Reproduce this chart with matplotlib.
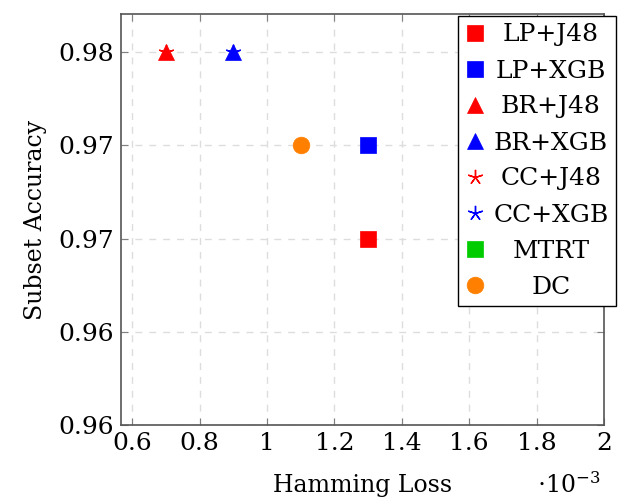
import matplotlib
matplotlib.use("Agg")
import matplotlib.pyplot as plt

# data (hamming loss in units of 1e-3, subset accuracy)
names = ["LP+J48", "LP+XGB", "BR+J48", "BR+XGB", "CC+J48", "CC+XGB", "MTRT", "DC"]
hloss = [1.3, 1.3, 0.7, 0.9, 0.7, 0.9, 2.6, 1.1]
sacc = [0.970, 0.975, 0.980, 0.980, 0.980, 0.980, 0.93, 0.975]
colors = ["#ff0000", "#0000ff", "#ff0000", "#0000ff", "#ff0000", "#0000ff", "#00cc00", "#ff8000"]
markers = ["s", "s", "^", "^", (5, 2, 0), (5, 2, 0), "s", "o"]
msizes = [12, 12, 11, 11, 11, 11, 12, 12]

yticks = [0.96, 0.965, 0.97, 0.975, 0.98]
ylabels = ["0.96", "0.96", "0.97", "0.97", "0.98"]
xticks = [0.6, 0.8, 1.0, 1.2, 1.4, 1.6, 1.8, 2.0]
xlabels = ["0.6", "0.8", "1", "1.2", "1.4", "1.6", "1.8", "2"]

plt.rcParams["font.family"] = ["DejaVu Serif"]
plt.rcParams["mathtext.fontset"] = "dejavuserif"

fig = plt.figure(figsize=(6.35, 5.03), dpi=100)
ax = fig.add_axes([0.1906, 0.155, 0.7606, 0.817])

for n, x, y, c, m, s in zip(names, hloss, sacc, colors, markers, msizes):
    ax.plot([x], [y], linestyle="none", marker=m, color=c, markersize=s,
            markeredgewidth=1.0 if m not in ("s", "o", "^") else 0.5, label=n)

ax.set_xlim(0.567, 2.0)
ax.set_ylim(0.96, 0.98204)
ax.set_xticks(xticks)
ax.set_xticklabels(xlabels)
ax.set_yticks(yticks)
ax.set_yticklabels(ylabels)
ax.tick_params(direction="in", length=5, color="#808080", labelsize=18, pad=5,
               top=True, right=True)
ax.grid(True, linestyle=(0, (5, 5)), color="#dddddd", linewidth=1)
for sp in ax.spines.values():
    sp.set_color("#555555")
    sp.set_linewidth(1.2)

ax.set_xlabel("Hamming Loss", fontsize=17, labelpad=14)
ax.set_ylabel("Subset Accuracy", fontsize=17, labelpad=8)
fig.text(0.895, 0.010, r"$\cdot 10^{-3}$", fontsize=17, ha="center", va="bottom")

leg = ax.legend(loc="upper right", bbox_to_anchor=(616 / 635, 1 - 16 / 503),
                bbox_transform=fig.transFigure, fontsize=18, frameon=True,
                fancybox=False, edgecolor="black", framealpha=1,
                handlelength=0.7, handletextpad=0.4, borderpad=0.3,
                labelspacing=0.52, borderaxespad=0)
leg.get_frame().set_linewidth(1.0)

# center legend entries like pgfplots
fig.canvas.draw()
r = fig.canvas.get_renderer()
widths = [t.get_window_extent(r).width for t in leg.get_texts()]
wmax = max(widths)
for t, w in zip(leg.get_texts(), widths):
    t.set_position(((wmax - w) / 2, 0))

fig.savefig("out.png", dpi=100)
